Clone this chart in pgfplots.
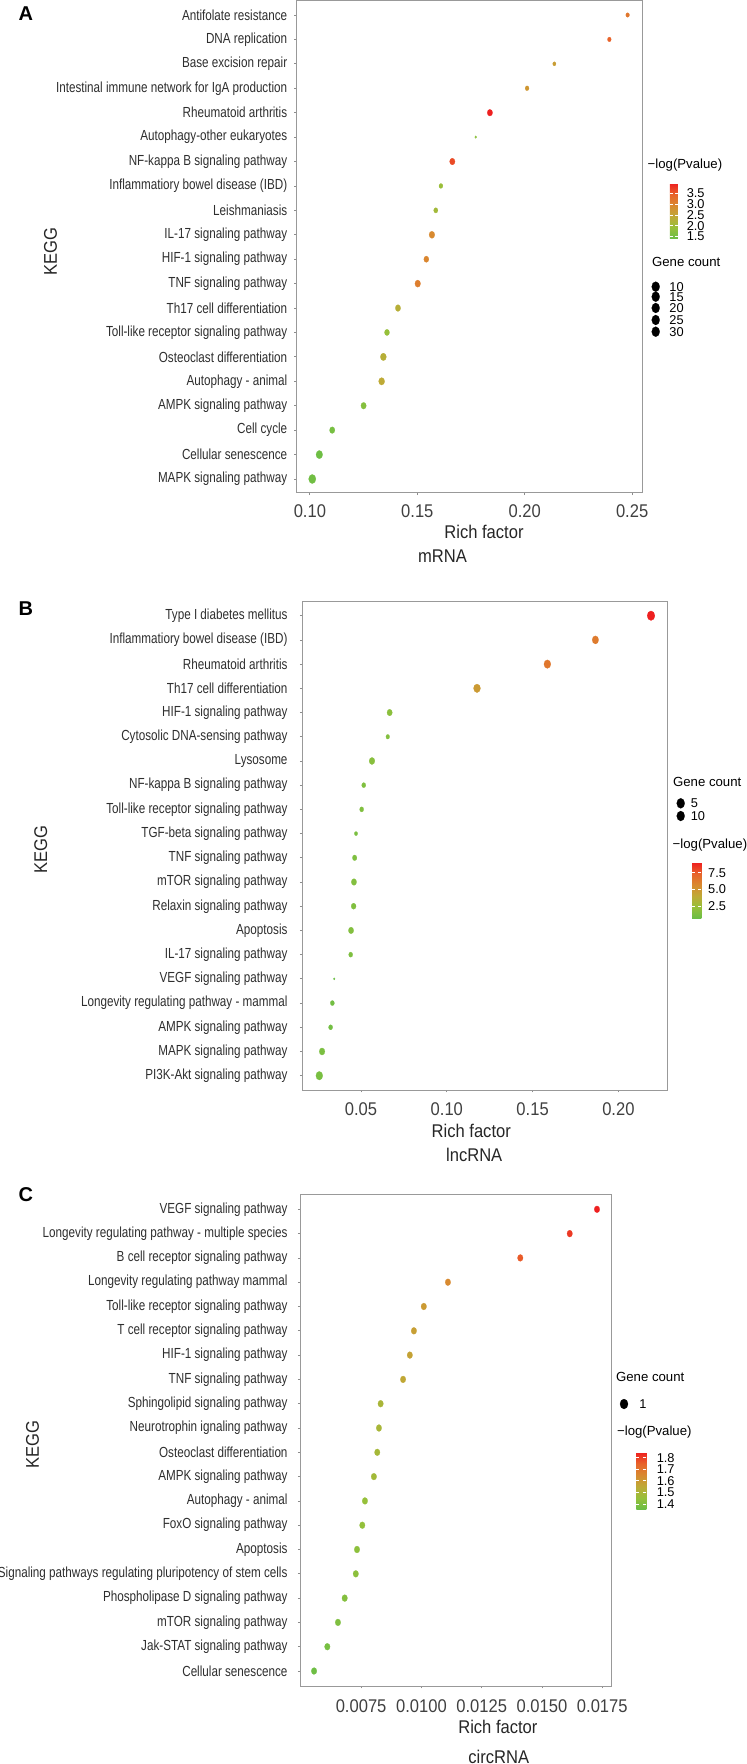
\documentclass[border=0pt]{standalone}
\usepackage{fontspec}
\setmainfont{Liberation Sans}
\newfontfamily\catfont{Liberation Sans}[FakeStretch=0.8]
\newfontfamily\axfont{Liberation Sans}[FakeStretch=0.9]
\usepackage{pgfplots}
\usepackage{pgfplotstable}
\pgfplotsset{compat=1.18}

\pgfplotstableread[col sep=semicolon]{
y;name;rf;lp;cnt
1;MAPK signaling pathway;0.1011;1.47;38
2;Cellular senescence;0.1044;1.44;34
3;Cell cycle;0.1104;1.54;26
4;AMPK signaling pathway;0.1250;1.70;26
5;Autophagy - animal;0.1334;2.42;30
6;Osteoclast differentiation;0.1342;2.32;30
7;Toll-like receptor signaling pathway;0.1359;1.90;24
8;Th17 cell differentiation;0.1410;2.32;26
9;TNF signaling pathway;0.1502;3.09;28
10;HIF-1 signaling pathway;0.1542;2.98;24
11;IL-17 signaling pathway;0.1568;2.93;28
12;Leishmaniasis;0.1586;2.06;19
13;Inflammatiory bowel disease (IBD);0.1610;1.96;17
14;NF-kappa B signaling pathway;0.1663;3.63;26
15;Autophagy-other eukaryotes;0.1772;1.78;5
16;Rheumatoid arthritis;0.1838;3.96;26
17;Intestinal immune network for IgA production;0.2011;2.73;17
18;Base excision repair;0.2138;2.62;13
19;DNA replication;0.2394;3.45;16
20;Antifolate resistance;0.2479;3.19;15
}\dataA

\pgfplotstableread[col sep=semicolon]{
y;name;rf;lp;cnt
1;PI3K-Akt signaling pathway;0.0257;1.20;14
2;MAPK signaling pathway;0.0273;1.30;11
3;AMPK signaling pathway;0.0323;1.00;7
4;Longevity regulating pathway - mammal;0.0333;1.00;7
5;VEGF signaling pathway;0.0344;0.70;1
6;IL-17 signaling pathway;0.0440;1.40;7
7;Apoptosis;0.0442;1.60;10
8;Relaxin signaling pathway;0.0457;1.50;9
9;mTOR signaling pathway;0.0459;1.60;10
10;TNF signaling pathway;0.0463;1.40;8
11;TGF-beta signaling pathway;0.0471;1.30;5
12;Toll-like receptor signaling pathway;0.0504;1.50;7
13;NF-kappa B signaling pathway;0.0516;1.50;7
14;Lysosome;0.0564;1.80;11
15;Cytosolic DNA-sensing pathway;0.0656;1.60;6
16;HIF-1 signaling pathway;0.0667;1.90;10
17;Th17 cell differentiation;0.1176;4.80;14
18;Rheumatoid arthritis;0.1586;6.50;14
19;Inflammatiory bowel disease (IBD);0.1866;6.30;13
20;Type I diabetes mellitus;0.2190;9.00;16
}\dataB

\pgfplotstableread[col sep=semicolon]{
y;name;rf;lp;cnt
1;Cellular senescence;0.00555;1.364;1
2;Jak-STAT signaling pathway;0.00610;1.384;1
3;mTOR signaling pathway;0.00654;1.400;1
4;Phospholipase D signaling pathway;0.00682;1.413;1
5;Signaling pathways regulating pluripotency of stem cells;0.00728;1.430;1
6;Apoptosis;0.00733;1.433;1
7;FoxO signaling pathway;0.00755;1.447;1
8;Autophagy - animal;0.00766;1.452;1
9;AMPK signaling pathway;0.00803;1.482;1
10;Osteoclast differentiation;0.00817;1.490;1
11;Neurotrophin ignaling pathway;0.00824;1.497;1
12;Sphingolipid signaling pathway;0.00831;1.500;1
13;TNF signaling pathway;0.00924;1.560;1
14;HIF-1 signaling pathway;0.00952;1.575;1
15;T cell receptor signaling pathway;0.00969;1.585;1
16;Toll-like receptor signaling pathway;0.01010;1.600;1
17;Longevity regulating pathway mammal;0.01110;1.650;1
18;B cell receptor signaling pathway;0.01410;1.760;1
19;Longevity regulating pathway - multiple species;0.01615;1.810;1
20;VEGF signaling pathway;0.01728;1.846;1
}\dataC

\pgfplotsset{
  colormap={kegg}{rgb255=(106,190,69) rgb255=(150,192,58) rgb255=(190,170,54) rgb255=(216,138,48) rgb255=(232,100,42) rgb255=(238,32,32)},
  keggaxis/.style={
    scale only axis, anchor=north west,
    colormap name=kegg,
    axis line style={black!40, line width=0.5pt},
    tick align=outside, major tick length=1.2pt,
    tick style={black!45, line width=0.4pt},
    xtick pos=left, ytick pos=left,
    scaled x ticks=false,
    ytick={1,...,20},
    yticklabel style={font=\catfont\fontsize{7.3}{8}\selectfont, text=black!82, inner sep=0pt, anchor=east},
    xticklabel style={font=\axfont\fontsize{9.2}{10}\selectfont, text=black!75, inner sep=0pt, anchor=north},
    label style={font=\axfont\fontsize{9.2}{10}\selectfont, text=black!85, inner sep=0pt},
    xlabel={Rich factor}, ylabel={KEGG},
    xlabel style={anchor=center}, ylabel style={anchor=center},
  },
  cbarstyle/.style={
    scale only axis, anchor=north west,
    axis line style={draw=none},
    tick align=inside, major tick length=1.5pt,
    tick style={white, line width=0.4pt},
    yticklabel style={font=\fontsize{6.4}{7}\selectfont, inner sep=0pt, anchor=west, text=black},
  },
  legaxis/.style={
    hide axis, scale only axis, clip=false, anchor=south west,
    /pgf/number format/assume math mode=true,
    nodes near coords style={anchor=west, inner sep=0pt, font=\fontsize{6.4}{7}\selectfont, text=black},
  },
  dots/.style={scatter, only marks, mark=*, scatter src=explicit,
    scatter/use mapped color={draw=mapped color, fill=mapped color},
    mark options={yscale=1.25, line width=0.1pt}},
}
\tikzset{legtitle/.style={font=\fontsize{6.6}{8}\selectfont, inner sep=0pt, anchor=west}}

\begin{document}
\begin{tikzpicture}
\path[use as bounding box] (0,0) rectangle (373.5pt,-882pt);

% ---------------- Panel A ----------------
\begin{axis}[keggaxis,
  at={(148.35pt,-0.35pt)}, width=173pt, height=246pt,
  xmin=0.09386, xmax=0.25492, ymin=0.439, ymax=20.586,
  xtick={0.10,0.15,0.20,0.25}, xticklabels={0.10,0.15,0.20,0.25},
  yticklabels from table={\dataA}{name},
  yticklabel style={xshift=-3.35pt},
  xticklabel style={yshift=-4.6pt},
  xlabel style={at={(axis description cs:0.5413,-0.0789)}},
  ylabel style={at={(axis description cs:-0.7116,0.4896)}},
  point meta min=1.39, point meta max=3.96,
  colorbar,
  colorbar style={cbarstyle, at={(326.35pt,-91.65pt)}, width=4pt, height=27.85pt,
    ytick={1.5,2,2.5,3,3.5}, yticklabels={1.5,2.0,2.5,3.0,3.5},
    yticklabel style={xshift=4.3pt}},
]
\addplot[dots,
  visualization depends on={(1.2+0.16*\thisrow{cnt})/4 \as \msize},
  scatter/@pre marker code/.append style={/tikz/mark size=\msize}]
  table[x=rf, y=y, meta=lp] {\dataA};
\end{axis}

\begin{axis}[legaxis, at={(320pt,-172.5pt)}, width=30pt, height=35pt,
  xmin=640, xmax=700, ymin=-345, ymax=-275,
  nodes near coords style={xshift=6.8pt}]
\addplot[dots, scatter/use mapped color={draw=black, fill=black},
  visualization depends on={(1.2+0.16*\thisrow{c})/4 \as \msize},
  scatter/@pre marker code/.append style={/tikz/mark size=\msize},
  nodes near coords]
  table[x=x, y=y, meta=c] {
x y c
655.7 -286.7 10
655.7 -296.7 15
655.7 -308.0 20
655.7 -320.0 25
655.7 -331.7 30
};
\end{axis}

% ---------------- Panel B ----------------
\begin{axis}[keggaxis,
  at={(151.15pt,-300.5pt)}, width=182.35pt, height=244.5pt,
  xmin=0.01579, xmax=0.22832, ymin=0.409, ymax=20.607,
  xtick={0.05,0.10,0.15,0.20}, xticklabels={0.05,0.10,0.15,0.20},
  yticklabels from table={\dataB}{name},
  yticklabel style={xshift=-6pt},
  xticklabel style={yshift=-4.7pt},
  xlabel style={at={(axis description cs:0.4634,-0.0838)}},
  ylabel style={at={(axis description cs:-0.7173,0.4924)}},
  point meta min=0.65, point meta max=9.0,
  colorbar,
  colorbar style={cbarstyle, at={(337.5pt,-431.35pt)}, width=4.65pt, height=27.8pt,
    ytick={2.5,5,7.5}, yticklabels={2.5,5.0,7.5},
    yticklabel style={xshift=3.2pt}},
]
\addplot[dots,
  visualization depends on={(1.3+0.4*\thisrow{cnt})/4 \as \msize},
  scatter/@pre marker code/.append style={/tikz/mark size=\msize}]
  table[x=rf, y=y, meta=lp] {\dataB};
\end{axis}

\begin{axis}[legaxis, at={(335pt,-415pt)}, width=25pt, height=20pt,
  xmin=670, xmax=720, ymin=-830, ymax=-790,
  nodes near coords style={xshift=5pt}]
\addplot[dots, scatter/use mapped color={draw=black, fill=black},
  visualization depends on={(1.3+0.4*\thisrow{c})/4 \as \msize},
  scatter/@pre marker code/.append style={/tikz/mark size=\msize},
  nodes near coords]
  table[x=x, y=y, meta=c] {
x y c
680.7 -803.3 5
680.7 -816.0 10
};
\end{axis}

% ---------------- Panel C ----------------
\begin{axis}[keggaxis,
  at={(150.15pt,-597.15pt)}, width=155.35pt, height=245.85pt,
  xmin=0.004979, xmax=0.017861, ymin=0.383, ymax=20.617,
  xtick={0.0075,0.01,0.0125,0.015,0.0175},
  xticklabels={0.0075,0.0100,0.0125,0.0150,0.0175},
  yticklabels from table={\dataC}{name},
  yticklabel style={xshift=-5pt},
  xticklabel style={yshift=-5.2pt},
  xlabel style={at={(axis description cs:0.636,-0.0824)}},
  ylabel style={at={(axis description cs:-0.8616,0.4916)}},
  point meta min=1.354, point meta max=1.846,
  colorbar,
  colorbar style={cbarstyle, at={(309.65pt,-726.15pt)}, width=5pt, height=28.5pt,
    ytick={1.4,1.5,1.6,1.7,1.8}, yticklabels={1.4,1.5,1.6,1.7,1.8},
    yticklabel style={xshift=5pt}},
]
\addplot[dots,
  visualization depends on={1.375*\thisrow{cnt} \as \msize},
  scatter/@pre marker code/.append style={/tikz/mark size=\msize}]
  table[x=rf, y=y, meta=lp] {\dataC};
\end{axis}

\begin{axis}[legaxis, at={(305pt,-710pt)}, width=25pt, height=15pt,
  xmin=610, xmax=660, ymin=-1420, ymax=-1390,
  nodes near coords style={xshift=7.65pt}]
\addplot[dots, scatter/use mapped color={draw=black, fill=black},
  visualization depends on={1.375*\thisrow{c} \as \msize},
  scatter/@pre marker code/.append style={/tikz/mark size=\msize},
  nodes near coords]
  table[x=x, y=y, meta=c] {
x y c
624 -1404 1
};
\end{axis}

% ---------------- Text ----------------
\begin{scope}[x=0.5pt,y=-0.5pt]
\node[font=\bfseries\fontsize{10}{12}\selectfont, inner sep=0pt] at (25.8,13.5) {A};
\node[font=\bfseries\fontsize{10}{12}\selectfont, inner sep=0pt] at (25.8,609) {B};
\node[font=\bfseries\fontsize{10}{12}\selectfont, inner sep=0pt] at (25.8,1194.6) {C};
\node[font=\axfont\fontsize{9.2}{10}\selectfont, text=black!85, inner sep=0pt] at (442.5,556) {mRNA};
\node[font=\axfont\fontsize{9.2}{10}\selectfont, text=black!85, inner sep=0pt] at (474.2,1155) {lncRNA};
\node[font=\axfont\fontsize{9.2}{10}\selectfont, text=black!85, inner sep=0pt] at (498.8,1757) {circRNA};
\node[legtitle] at (647.3,165) {−log(Pvalue)};
\node[legtitle] at (651.7,262) {Gene count};
\node[legtitle] at (672.7,781.7) {Gene count};
\node[legtitle] at (672.3,845) {−log(Pvalue)};
\node[legtitle] at (615.7,1377) {Gene count};
\node[legtitle] at (616.7,1432.5) {−log(Pvalue)};
\end{scope}
\end{tikzpicture}
\end{document}
